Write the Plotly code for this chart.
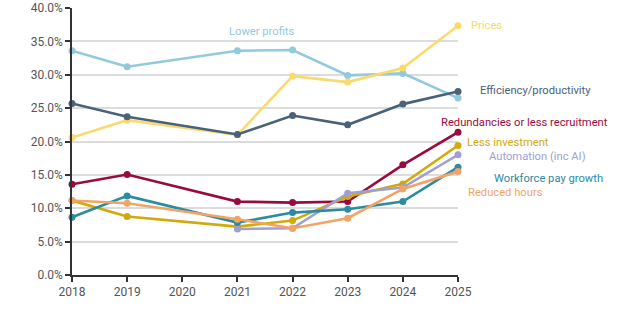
import plotly.graph_objects as go

years = [2018, 2019, 2021, 2022, 2023, 2024, 2025]
lower_profits = [33.6, 31.2, 33.6, 33.7, 29.9, 30.2, 26.5]
prices = [20.6, 23.2, 21.0, 29.8, 28.9, 31.0, 37.35]
efficiency = [25.7, 23.7, 21.05, 23.9, 22.5, 25.6, 27.5]
redundancies = [13.6, 15.05, 11.0, 10.85, 11.0, 16.5, 21.4]
less_investment = [11.15, 8.75, 7.25, 8.15, 11.75, 13.65, 19.4]
automation = [None, None, 6.9, 7.0, 12.25, 13.1, 18.0]
workforce_pay = [8.65, 11.85, 7.85, 9.35, 9.85, 11.0, 16.15]
reduced_hours = [11.15, 10.75, 8.35, 7.0, 8.5, 12.9, 15.5]

series = [
    ("Lower profits", lower_profits, "#92c9dc"),
    ("Prices", prices, "#fad96e"),
    ("Efficiency/productivity", efficiency, "#4a6279"),
    ("Redundancies or less recruitment", redundancies, "#990b3f"),
    ("Less investment", less_investment, "#d2a90a"),
    ("Automation (inc AI)", automation, "#a09fd2"),
    ("Workforce pay growth", workforce_pay, "#2b8ba2"),
    ("Reduced hours", reduced_hours, "#f1a466"),
]

# label positions (x in paper fraction, y in %), anchor
labels = {
    "Lower profits": (0.492, 36.45, "center"),
    "Prices": (1.0285, 37.35, "left"),
    "Efficiency/productivity": (1.2008, 27.6, "center"),
    "Redundancies or less recruitment": (1.172, 22.8, "center"),
    "Less investment": (1.1295, 19.8, "center"),
    "Automation (inc AI)": (1.206, 17.8, "center"),
    "Workforce pay growth": (1.2345, 14.4, "center"),
    "Reduced hours": (1.1218, 12.3, "center"),
}

FONT = "Roboto, Arial, sans-serif"

fig = go.Figure()
for name, vals, col in series:
    fig.add_trace(go.Scatter(
        x=years, y=vals, mode="lines+markers", name=name,
        line=dict(color=col, width=2.6),
        marker=dict(color=col, size=7),
        connectgaps=False, cliponaxis=False,
    ))
    lx, ly, anc = labels[name]
    fig.add_annotation(x=lx, y=ly, xref="paper", yref="y", text=name,
                       showarrow=False, xanchor=anc, yanchor="middle",
                       font=dict(family=FONT, size=11.2, color=col))

fig.update_layout(
    width=620, height=328,
    margin=dict(l=72, r=162, t=8, b=53, pad=0, autoexpand=False),
    paper_bgcolor="white", plot_bgcolor="white",
    showlegend=False,
    font=dict(family=FONT, size=12, color="#555555"),
)
fig.update_xaxes(
    range=[2018, 2025], tickmode="linear", dtick=1, tick0=2018,
    showgrid=False, showline=True, linecolor="#333333", linewidth=1.5,
    ticks="outside", ticklen=5, tickcolor="#333333", tickwidth=1.5,
    tickfont=dict(family=FONT, size=12, color="#555555"), zeroline=False,
    automargin=False,
)
fig.update_yaxes(
    range=[0, 40], dtick=5, tickformat=".1f", ticksuffix="%",
    showgrid=True, gridcolor="#dcdcdc", gridwidth=1.5,
    showline=True, linecolor="#333333", linewidth=1.5,
    ticks="outside", ticklen=5, tickcolor="#333333", tickwidth=1.5,
    tickfont=dict(family=FONT, size=12, color="#555555"), zeroline=False,
    automargin=False,
)

fig.write_html("out.html")
